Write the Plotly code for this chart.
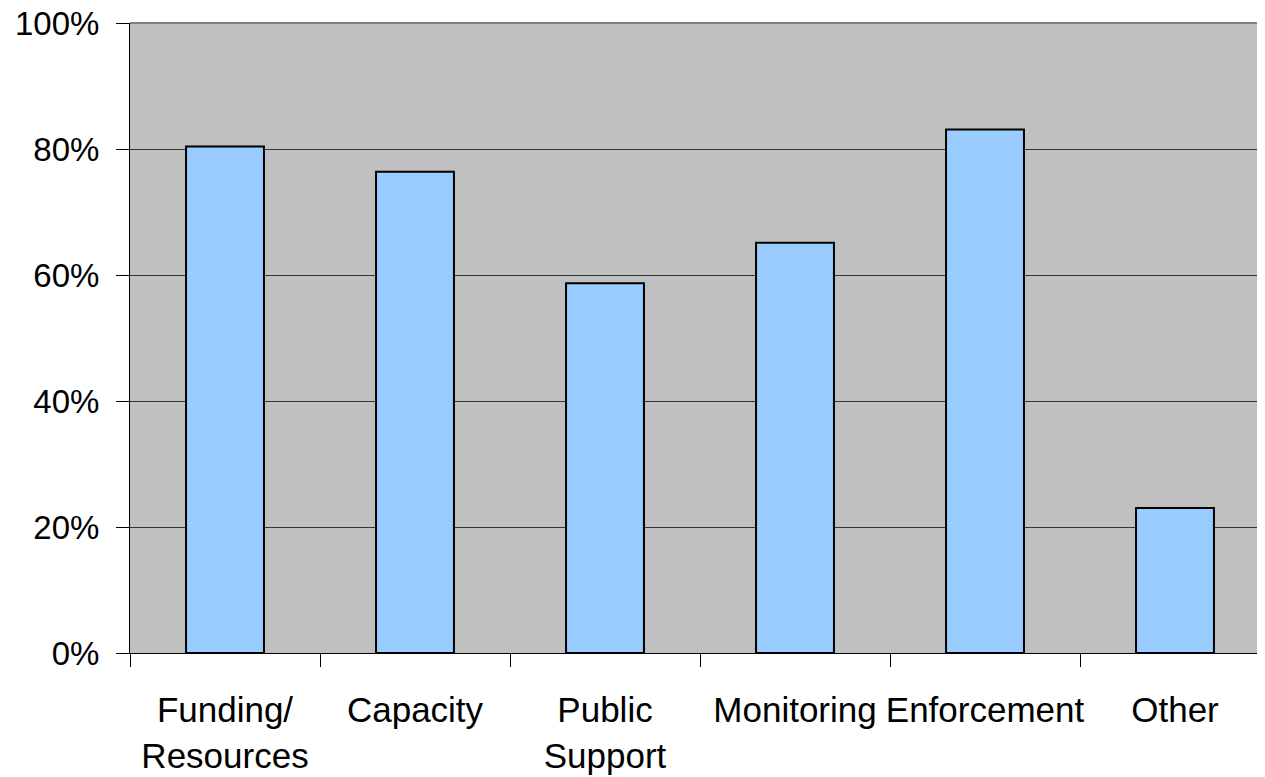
import plotly.graph_objects as go

categories = ["Funding/<br>Resources", "Capacity", "Public<br>Support", "Monitoring", "Enforcement", "Other"]
values = [0.804, 0.764, 0.587, 0.651, 0.831, 0.23]
y_ticks = [0, 0.2, 0.4, 0.6, 0.8, 1.0]
y_ticktext = ["0%", "20%", "40%", "60%", "80%", "100%"]

fig = go.Figure()
fig.add_trace(go.Bar(
    x=categories, y=values,
    marker=dict(color="#99CCFF", line=dict(color="#000000", width=2)),
    width=0.41,
))

FONT = "Liberation Sans, Arial, sans-serif"
fig.update_layout(
    width=1265, height=777,
    margin=dict(l=122, r=3, t=15, b=132),
    paper_bgcolor="white", plot_bgcolor="#C0C0C0",
    showlegend=False,
    font=dict(family=FONT, size=33, color="black"),
)
fig.update_xaxes(
    range=[-0.5, 5.5], automargin=False, tickangle=0, ticklabeloverflow="allow",
    showline=True, linecolor="black", linewidth=1,
    ticks="outside", tickson="boundaries", ticklen=13, tickcolor="black",
    showgrid=False, ticklabelstandoff=26,
    tickfont=dict(family=FONT, size=35, color="black"),
)
fig.update_yaxes(
    range=[0, 1], tickvals=y_ticks, ticktext=y_ticktext, automargin=False,
    ticklabeloverflow="allow",
    showline=True, linecolor="black", linewidth=1,
    ticks="outside", ticklen=13, tickcolor="black",
    showgrid=True, gridcolor="#333333", gridwidth=1,
    zeroline=False, ticklabelstandoff=10,
    tickfont=dict(family=FONT, size=33, color="black"),
)
fig.add_shape(type="line", xref="paper", yref="paper", x0=0, x1=1, y0=1, y1=1,
              line=dict(color="#808080", width=2))

fig.write_html("out.html")
